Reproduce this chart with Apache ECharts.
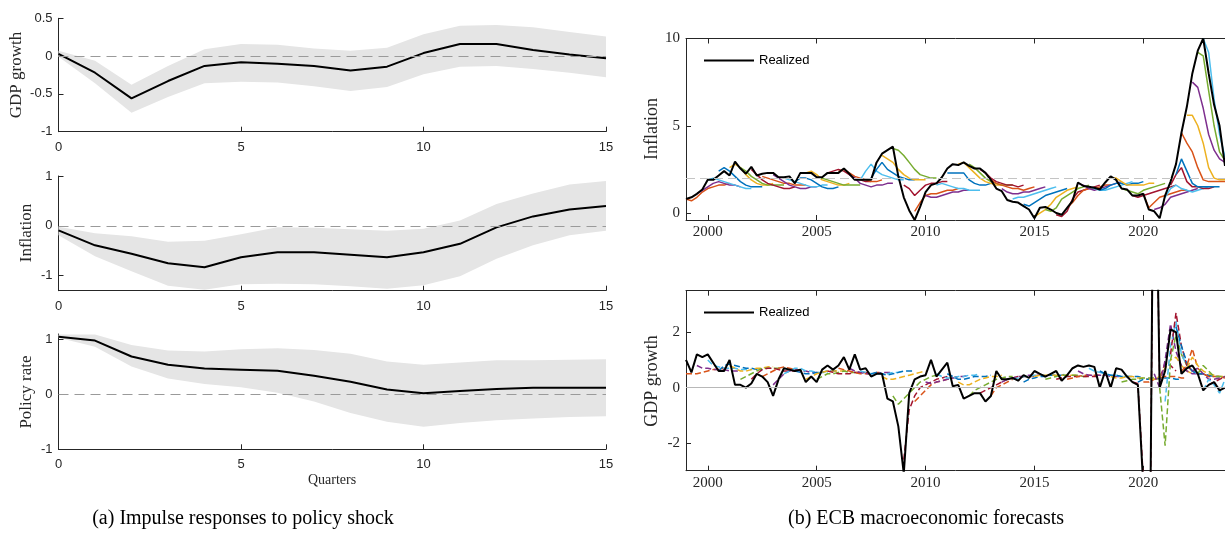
<!DOCTYPE html>
<html>
<head>
<meta charset="utf-8">
<script src="https://cdn.jsdelivr.net/npm/echarts@6/dist/echarts.min.js"></script>
<style>
html,body{margin:0;padding:0;background:#fff;}
#main{width:1225px;height:533px;}
</style>
</head>
<body>
<div id="main"></div>
<script>
// ---- (a) impulse responses, quarters 0..15 ----
var horizon = [0,1,2,3,4,5,6,7,8,9,10,11,12,13,14,15];

var gdpIrf = [0.03,-0.22,-0.56,-0.33,-0.13,-0.08,-0.10,-0.13,-0.19,-0.14,0.04,0.16,0.16,0.08,0.02,-0.03];
var gdpHi  = [0.07,-0.06,-0.38,-0.13,0.09,0.16,0.15,0.10,0.07,0.11,0.29,0.40,0.41,0.38,0.32,0.26];
var gdpLo  = [-0.01,-0.36,-0.75,-0.54,-0.36,-0.34,-0.35,-0.40,-0.46,-0.41,-0.24,-0.14,-0.13,-0.17,-0.22,-0.28];

var infIrf = [-0.09,-0.39,-0.56,-0.75,-0.83,-0.63,-0.53,-0.53,-0.58,-0.63,-0.53,-0.36,-0.03,0.19,0.33,0.40];
var infHi  = [-0.02,-0.15,-0.21,-0.32,-0.30,-0.17,-0.03,-0.04,-0.07,-0.10,-0.06,0.11,0.44,0.65,0.83,0.90];
var infLo  = [-0.19,-0.61,-0.91,-1.20,-1.28,-1.17,-1.16,-1.17,-1.21,-1.26,-1.19,-1.01,-0.66,-0.39,-0.19,-0.10];

var rateIrf = [1.05,0.98,0.69,0.54,0.47,0.45,0.43,0.34,0.23,0.09,0.02,0.06,0.10,0.12,0.12,0.12];
var rateHi  = [1.09,1.09,0.90,0.80,0.78,0.82,0.84,0.81,0.74,0.60,0.54,0.58,0.62,0.62,0.63,0.64];
var rateLo  = [1.03,0.87,0.51,0.29,0.19,0.13,0.03,-0.13,-0.34,-0.50,-0.59,-0.52,-0.47,-0.44,-0.41,-0.40];

// ---- (b) ECB forecasts, quarterly from 1999Q1 ----
var firstYear = 1999;
var yearTicks = [2000,2005,2010,2015,2020];

var inflRealized = [
  0.8,0.9,1.1,1.35, 1.9,1.9,2.15,2.4, 2.15,2.95,2.55,2.25, 2.65,2.15,2.25,2.3,
  2.3,2.05,2.05,2.1, 1.7,2.3,2.3,2.3, 2.05,2.05,2.3,2.3, 2.3,2.55,2.25,1.9,
  1.9,1.9,1.9,2.9, 3.4,3.6,3.8,2.1, 0.9,0.15,-0.4,0.35, 1.2,1.6,1.7,2.05,
  2.55,2.8,2.75,2.9, 2.7,2.55,2.55,2.3, 1.9,1.4,1.25,0.75, 0.65,0.6,0.4,0.2,
  -0.3,0.3,0.35,0.2, 0.0,-0.1,0.3,0.7, 1.75,1.55,1.5,1.45, 1.35,1.75,2.1,1.9,
  1.4,1.35,1.0,1.0, 1.1,0.2,0.1,-0.3, 1.0,1.8,2.8,4.6, 6.1,8.0,9.3,10.0,
  8.0,6.2,5.0,2.7
];

var gdpRealized = [
  1.0,0.55,1.2,1.1, 1.2,0.9,0.6,0.6, 1.0,0.1,0.1,0.0, 0.15,0.5,0.4,0.2,
  -0.3,0.3,0.7,0.65, 0.6,0.65,0.2,0.4, 0.2,0.65,0.8,0.65, 0.8,1.1,0.65,1.2,
  0.65,0.7,0.4,0.5, 0.5,-0.4,-0.5,-1.4, -3.1,-0.2,0.3,0.4, 0.45,1.0,0.4,0.65,
  0.9,0.05,0.1,-0.4, -0.3,-0.2,-0.2,-0.5, -0.3,0.6,0.3,0.3, 0.35,0.25,0.45,0.35,
  0.6,0.5,0.4,0.5, 0.6,0.25,0.45,0.7, 0.8,0.75,0.8,0.75, 0.0,0.6,0.0,0.7,
  0.65,0.4,0.2,0.1, -3.6,-11.5,12.6,0.0, 0.6,2.1,2.0,0.5, 0.7,0.8,0.5,-0.1,
  0.1,0.2,-0.1,0.0
];

// forecast vintages: quarter index of first point, and the path from there
var inflVintages = [0,2,4,6,8,10,12,14,16,18,20,22,24,26,28,30,32,34,36,38,40,42,44,46,
  48,50,52,54,56,58,60,62,64,66,68,70,72,74,76,78,80,82,84,86,88,89,90,91,92,93,94,95];
var inflPaths = [
  [0.8,0.7,0.9,1.2,1.4,1.5,1.6,1.6,1.7],
  [1.1,1.3,1.5,1.7,1.8,1.7,1.6,1.6,1.5],
  [1.9,2.0,1.9,1.8,1.7,1.6,1.5,1.4,1.4],
  [2.4,2.6,2.4,2.1,1.8,1.6,1.5,1.5,1.5],
  [2.6,2.8,2.6,2.2,1.9,1.7,1.6,1.6,1.7],
  [2.6,2.4,2.1,1.9,1.7,1.6,1.6,1.6,1.6],
  [2.5,2.2,1.9,1.7,1.6,1.5,1.4,1.4,1.5],
  [2.1,2.0,1.9,1.8,1.7,1.7,1.6,1.6,1.6],
  [2.2,2.0,1.8,1.6,1.5,1.4,1.4,1.5,1.5],
  [2.0,1.9,1.8,1.7,1.6,1.5,1.5,1.6,1.6],
  [1.8,2.0,2.0,1.9,1.7,1.5,1.4,1.4,1.5],
  [2.3,2.4,2.2,1.9,1.8,1.7,1.6,1.6,1.7],
  [2.0,2.0,1.9,1.8,1.7,1.6,1.6,1.6,1.6],
  [2.3,2.4,2.5,2.4,2.2,2.0,1.9,1.8,1.8],
  [2.4,2.5,2.3,2.1,2.0,1.9,1.8,1.8,1.9],
  [2.2,2.0,1.7,1.6,1.5,1.6,1.6,1.7,1.7],
  [1.9,2.4,2.8,2.4,2.2,2.1,2.0,1.9,1.9],
  [2.0,2.5,2.9,2.5,2.3,2.1,2.0,1.9,1.9],
  [3.3,3.1,2.9,2.5,2.2,2.0,1.9,1.9,1.9],
  [3.7,3.6,3.3,2.9,2.5,2.2,2.1,2.0,2.0],
  [1.6,1.4,1.0,1.3,1.6,1.7,1.7,1.8,1.8],
  [0.1,0.6,1.0,1.1,1.1,1.2,1.3,1.3,1.4],
  [1.0,0.9,0.9,1.0,1.1,1.2,1.2,1.3,1.3],
  [1.6,1.7,1.6,1.5,1.4,1.4,1.3,1.3,1.3],
  [2.3,2.3,2.3,2.3,1.9,1.7,1.6,1.6,1.7],
  [2.8,2.9,2.6,2.3,2.0,1.8,1.7,1.6,1.6],
  [2.8,2.6,2.3,2.0,1.8,1.7,1.6,1.6,1.6],
  [2.5,2.3,2.0,1.8,1.7,1.6,1.6,1.5,1.6],
  [1.9,1.7,1.6,1.5,1.4,1.4,1.3,1.4,1.5],
  [1.4,1.2,1.1,1.1,1.2,1.2,1.3,1.4,1.5],
  [0.8,0.9,0.9,1.0,1.1,1.2,1.3,1.4,1.5],
  [0.5,0.4,0.6,0.8,1.0,1.1,1.2,1.3,1.4],
  [-0.2,0.0,0.2,0.5,0.9,1.1,1.3,1.4,1.5],
  [0.2,0.1,0.3,0.8,1.0,1.2,1.4,1.5,1.6],
  [-0.1,-0.2,0.1,0.8,1.2,1.3,1.4,1.5,1.6],
  [0.3,0.6,1.0,1.3,1.4,1.4,1.5,1.6,1.6],
  [1.7,1.6,1.4,1.3,1.4,1.5,1.6,1.7,1.8],
  [1.5,1.4,1.3,1.3,1.4,1.5,1.6,1.7,1.8],
  [1.3,1.4,1.6,1.7,1.7,1.6,1.7,1.7,1.8],
  [2.0,2.0,1.8,1.6,1.6,1.6,1.6,1.7,1.7],
  [1.4,1.3,1.2,1.1,1.3,1.4,1.5,1.6,1.7],
  [1.0,0.9,1.0,1.1,1.2,1.3,1.4,1.5,1.6],
  [1.1,0.3,0.6,0.9,1.0,1.1,1.2,1.3,1.3],
  [0.2,0.3,0.5,0.9,1.0,1.1,1.2,1.3,1.4],
  [0.9,1.4,1.6,1.4,1.3,1.2,1.3,1.4,1.5],
  [1.6,2.2,2.6,1.8,1.5,1.5,1.4,1.4,1.5],
  [2.2,3.1,2.4,1.7,1.5,1.5,1.5,1.5,1.5],
  [4.6,4.0,3.5,2.6,1.9,1.8,1.8,1.8,1.8],
  [5.6,5.6,5.0,4.0,2.6,2.0,1.9,1.9],
  [7.5,7.2,6.0,4.5,3.6,3.1,2.9],
  [9.2,9.0,7.0,5.0,3.5,3.0],
  [10.0,9.2,6.5,4.5,3.2]
];

var gdpVintages = [0,2,4,6,8,10,12,14,16,18,20,22,24,26,28,30,32,34,36,38,40,42,44,46,
  48,50,52,54,56,58,60,62,64,66,68,70,72,74,76,78,80,82,83,84,85,86,87,88,89,90,91,92,93,94,95,96];
var gdpPaths = [
  [0.5,0.5,0.5,0.55,0.6,0.65,0.65,0.7,0.7],
  [0.8,0.7,0.7,0.65,0.65,0.65,0.6,0.6,0.6],
  [1.0,0.8,0.75,0.7,0.7,0.7,0.65,0.65,0.65],
  [0.6,0.8,0.85,0.8,0.75,0.7,0.7,0.65,0.65],
  [0.8,0.7,0.6,0.6,0.65,0.7,0.7,0.75,0.75],
  [0.3,0.4,0.5,0.6,0.7,0.7,0.7,0.7,0.65],
  [0.3,0.5,0.65,0.7,0.7,0.65,0.6,0.6,0.6],
  [0.4,0.5,0.6,0.7,0.75,0.7,0.65,0.6,0.6],
  [0.1,0.3,0.5,0.6,0.65,0.6,0.6,0.55,0.55],
  [0.5,0.6,0.7,0.7,0.6,0.6,0.55,0.55,0.55],
  [0.6,0.55,0.5,0.5,0.55,0.55,0.6,0.6,0.6],
  [0.3,0.4,0.5,0.55,0.6,0.6,0.6,0.6,0.6],
  [0.3,0.4,0.5,0.5,0.55,0.6,0.55,0.55,0.55],
  [0.6,0.55,0.5,0.5,0.5,0.55,0.55,0.55,0.5],
  [0.7,0.65,0.6,0.55,0.5,0.5,0.5,0.55,0.55],
  [0.7,0.6,0.55,0.5,0.5,0.5,0.55,0.55,0.55],
  [0.6,0.55,0.5,0.5,0.5,0.5,0.55,0.55,0.6],
  [0.5,0.55,0.5,0.45,0.5,0.55,0.6,0.6,0.6],
  [0.4,0.3,0.3,0.35,0.4,0.45,0.5,0.55,0.6],
  [-0.3,-0.6,-0.4,-0.2,0.0,0.2,0.3,0.4,0.45],
  [-2.6,-0.8,-0.3,0.0,0.1,0.2,0.3,0.35,0.4],
  [-0.5,-0.3,-0.1,0.1,0.2,0.25,0.3,0.35,0.4],
  [0.2,0.15,0.2,0.25,0.3,0.35,0.4,0.4,0.45],
  [0.5,0.4,0.35,0.35,0.4,0.4,0.45,0.45,0.5],
  [0.5,0.4,0.3,0.3,0.35,0.4,0.4,0.4,0.45],
  [0.2,0.1,0.1,0.2,0.3,0.35,0.4,0.4,0.45],
  [-0.3,-0.1,0.0,0.1,0.2,0.3,0.35,0.4,0.4],
  [-0.2,-0.1,0.0,0.1,0.2,0.3,0.35,0.4,0.4],
  [-0.3,0.0,0.1,0.2,0.3,0.35,0.4,0.4,0.4],
  [0.2,0.3,0.35,0.4,0.4,0.45,0.45,0.45,0.45],
  [0.3,0.35,0.4,0.4,0.45,0.45,0.45,0.45,0.45],
  [0.2,0.3,0.35,0.4,0.4,0.45,0.45,0.45,0.5],
  [0.4,0.45,0.45,0.45,0.45,0.45,0.45,0.45,0.45],
  [0.3,0.35,0.4,0.45,0.45,0.45,0.45,0.4,0.4],
  [0.3,0.35,0.4,0.4,0.4,0.4,0.4,0.4,0.4],
  [0.3,0.35,0.4,0.45,0.45,0.45,0.45,0.45,0.45],
  [0.6,0.5,0.45,0.45,0.45,0.45,0.4,0.4,0.4],
  [0.7,0.6,0.55,0.5,0.45,0.45,0.4,0.4,0.4],
  [0.6,0.5,0.45,0.45,0.4,0.4,0.4,0.4,0.35],
  [0.4,0.35,0.35,0.4,0.4,0.35,0.35,0.3,0.3],
  [0.2,0.25,0.3,0.3,0.35,0.35,0.35,0.3,0.3],
  [0.2,0.15,-3.3,-11.0,11.5,0.3,0.9,0.8,0.6],
  [0.2,0.3,0.3,0.3,0.35,0.35,0.35,0.3,0.3],
  [0.2,0.2,0.3,0.35,0.4,0.4,0.4,0.35,0.35],
  [0.3,0.3,0.4,0.7,1.0,1.1,0.8,0.6,0.5],
  [0.5,0.0,1.0,2.3,1.3,0.8,0.6,0.5,0.5],
  [0.0,-2.1,1.0,1.9,1.2,0.8,0.6,0.5,0.5],
  [-0.5,1.5,2.4,1.2,0.8,0.6,0.5,0.5,0.4],
  [1.2,2.7,1.5,0.8,0.6,0.5,0.5,0.4,0.4],
  [2.2,1.5,0.9,0.6,0.5,0.5,0.45,0.4,0.4],
  [0.6,0.8,1.4,0.7,0.5,0.4,0.4,0.4,0.35],
  [0.7,1.1,0.8,0.6,0.5,0.45,0.4,0.4],
  [0.6,0.7,0.5,0.3,0.3,0.35,0.4],
  [0.5,0.8,0.6,0.4,0.4,0.4],
  [-0.1,0.3,0.1,-0.2,0.3],
  [0.1,0.2,0.3,0.4]
];

var palette = ['#0072BD','#D95319','#EDB120','#7E2F8E','#77AC30','#4DBEEE','#A2142F'];
var axisCol = '#262626';
var sans = 'Liberation Sans, Arial, sans-serif';
var serif = 'Liberation Serif, Times New Roman, serif';

function qTime(i) { return firstYear + i / 4; }
function seriesPts(start, vals) {
  return vals.map(function (v, k) { return [qTime(start + k), v]; });
}
function irfPts(vals) {
  return horizon.map(function (h, k) { return [h, vals[k]]; });
}

var leftGrid = {left: 58.5, width: 547.5};
var rightGrid = {left: 686, width: 541.7};
var grids = [
  {left: leftGrid.left, width: leftGrid.width, top: 18.3, height: 113.4},
  {left: leftGrid.left, width: leftGrid.width, top: 176, height: 114.7},
  {left: leftGrid.left, width: leftGrid.width, top: 334, height: 115.3},
  {left: rightGrid.left, width: rightGrid.width, top: 38.5, height: 181.5},
  {left: rightGrid.left, width: rightGrid.width, top: 290.7, height: 180}
];

function irfXAxis(gi) {
  return {
    type: 'value', gridIndex: gi, min: 0, max: 15, interval: 5,
    axisLine: {onZero: false, lineStyle: {color: axisCol, width: 1}},
    axisTick: {inside: true, length: 5, lineStyle: {color: axisCol}},
    axisLabel: {color: axisCol, fontFamily: sans, fontSize: 13, margin: 9},
    splitLine: {show: false}
  };
}
function irfYAxis(gi, min, max, ticks) {
  return {
    type: 'value', gridIndex: gi, min: min, max: max,
    axisLine: {show: true, onZero: false, lineStyle: {color: axisCol, width: 1}},
    axisTick: {show: true, inside: true, length: 5, customValues: ticks, lineStyle: {color: axisCol}},
    axisLabel: {color: axisCol, fontFamily: sans, fontSize: 13, margin: 6, customValues: ticks},
    splitLine: {show: false}
  };
}
function yearAxis(gi, pos) {
  return {
    type: 'value', gridIndex: gi, position: pos, min: 1999, max: 2023.75,
    axisLine: {onZero: false, lineStyle: {color: axisCol, width: 1}},
    axisTick: {inside: true, length: 5, customValues: yearTicks, lineStyle: {color: axisCol}},
    axisLabel: {show: pos === 'bottom', color: axisCol, fontFamily: serif, fontSize: 15, margin: 5,
      customValues: yearTicks, formatter: function (v) { return String(v); }},
    splitLine: {show: false}
  };
}
function fcYAxis(gi, min, max, ticks) {
  return {
    type: 'value', gridIndex: gi, min: min, max: max,
    axisLine: {show: true, onZero: false, lineStyle: {color: axisCol, width: 1}},
    axisTick: {show: true, inside: true, length: 5, customValues: ticks, lineStyle: {color: axisCol}},
    axisLabel: {color: axisCol, fontFamily: serif, fontSize: 15, margin: 6, customValues: ticks},
    splitLine: {show: false}
  };
}

var series = [];

// grey confidence band drawn as one polygon: upper edge forward, lower edge back
function bandRender(lo, hi) {
  return function (params, api) {
    if (params.dataIndex !== 0) return null;
    var pts = [];
    horizon.forEach(function (h, k) { pts.push(api.coord([h, hi[k]])); });
    for (var k = horizon.length - 1; k >= 0; k--) pts.push(api.coord([horizon[k], lo[k]]));
    return {type: 'polygon', silent: true, shape: {points: pts}, style: {fill: '#e5e5e5'}};
  };
}

function addIrf(gi, mid, lo, hi) {
  series.push({
    type: 'custom', xAxisIndex: gi, yAxisIndex: gi, z: 1, silent: true,
    renderItem: bandRender(lo, hi),
    encode: {x: 0, y: [1, 2]},
    data: horizon.map(function (h, k) { return [h, lo[k], hi[k]]; })
  });
  series.push({
    type: 'line', xAxisIndex: gi, yAxisIndex: gi, symbol: 'none', z: 4,
    lineStyle: {color: '#000', width: 2}, data: irfPts(mid),
    markLine: {silent: true, symbol: 'none', label: {show: false},
      lineStyle: {color: '#9a9a9a', type: [10, 6], width: 1}, data: [{yAxis: 0}]}
  });
}
addIrf(0, gdpIrf, gdpLo, gdpHi);
addIrf(1, infIrf, infLo, infHi);
addIrf(2, rateIrf, rateLo, rateHi);

// inflation forecasts (solid) and realized
inflVintages.forEach(function (v, n) {
  var s = {
    type: 'line', xAxisIndex: 3, yAxisIndex: 3, symbol: 'none', silent: true, z: 2,
    lineStyle: {color: palette[(v + 1) % 7], width: 1.5},
    data: seriesPts(v, inflPaths[n])
  };
  if (n === 0) {
    s.markLine = {silent: true, symbol: 'none', label: {show: false},
      lineStyle: {color: '#c4c4c4', type: [9, 5], width: 1}, data: [{yAxis: 2}]};
  }
  series.push(s);
});
series.push({
  name: 'Realized', type: 'line', xAxisIndex: 3, yAxisIndex: 3, symbol: 'none', z: 3,
  lineStyle: {color: '#000', width: 2}, itemStyle: {color: '#000'},
  data: seriesPts(0, inflRealized)
});

// GDP forecasts (dashed) and realized
gdpVintages.forEach(function (v, n) {
  var s = {
    type: 'line', xAxisIndex: 4, yAxisIndex: 4, symbol: 'none', silent: true, z: 2,
    lineStyle: {color: palette[(v + 1) % 7], width: 1.5, type: [6, 3]},
    data: seriesPts(v, gdpPaths[n])
  };
  if (n === 0) {
    s.markLine = {silent: true, symbol: 'none', label: {show: false},
      lineStyle: {color: '#b8b8b8', type: 'solid', width: 1}, data: [{yAxis: 0}]};
  }
  series.push(s);
});
series.push({
  name: 'Realized ', type: 'line', xAxisIndex: 4, yAxisIndex: 4, symbol: 'none', z: 3,
  lineStyle: {color: '#000', width: 2}, itemStyle: {color: '#000'},
  data: seriesPts(0, gdpRealized)
});

function legendAt(top, name) {
  return {
    data: [name], left: 704, top: top, padding: 0, itemWidth: 50, itemHeight: 2, itemGap: 0,
    icon: 'rect', selectedMode: false, formatter: function () { return 'Realized'; },
    itemStyle: {color: '#000'},
    textStyle: {color: '#000', fontFamily: sans, fontSize: 13, padding: [0, 0, 0, 0]}
  };
}

function vText(txt, x, y, size) {
  return {type: 'text', x: x, y: y, rotation: Math.PI / 2, silent: true,
    style: {text: txt, font: size + 'px ' + serif, fill: axisCol, textAlign: 'center', textVerticalAlign: 'middle'}};
}
function hText(txt, x, y, size, col) {
  return {type: 'text', x: x, y: y, silent: true,
    style: {text: txt, font: size + 'px ' + serif, fill: col, textAlign: 'center', textVerticalAlign: 'middle'}};
}

var option = {
  animation: false,
  backgroundColor: '#fff',
  grid: grids,
  xAxis: [irfXAxis(0), irfXAxis(1), irfXAxis(2), yearAxis(3, 'bottom'), yearAxis(4, 'bottom'),
          yearAxis(3, 'top'), yearAxis(4, 'top')],
  yAxis: [irfYAxis(0, -1, 0.5, [-1, -0.5, 0, 0.5]), irfYAxis(1, -1.3, 1, [-1, 0, 1]),
          irfYAxis(2, -1, 1.1, [-1, 0, 1]), fcYAxis(3, -0.4, 10, [0, 5, 10]),
          fcYAxis(4, -3, 3.5, [-2, 0, 2])],
  legend: [legendAt(54, 'Realized'), legendAt(306, 'Realized ')],
  series: series,
  graphic: [
    vText('GDP growth', 17, 75, 17),
    vText('Inflation', 27, 233, 17),
    vText('Policy rate', 27, 392, 17),
    hText('Quarters', 332, 480, 14, axisCol),
    vText('Inflation', 652, 129, 18),
    vText('GDP growth', 652, 381, 18),
    hText('(a) Impulse responses to policy shock', 243, 519, 20, '#000'),
    hText('(b) ECB macroeconomic forecasts', 926, 519, 20, '#000')
  ]
};

var myChart = echarts.init(document.getElementById('main'));
myChart.setOption(option);
</script>
</body>
</html>
